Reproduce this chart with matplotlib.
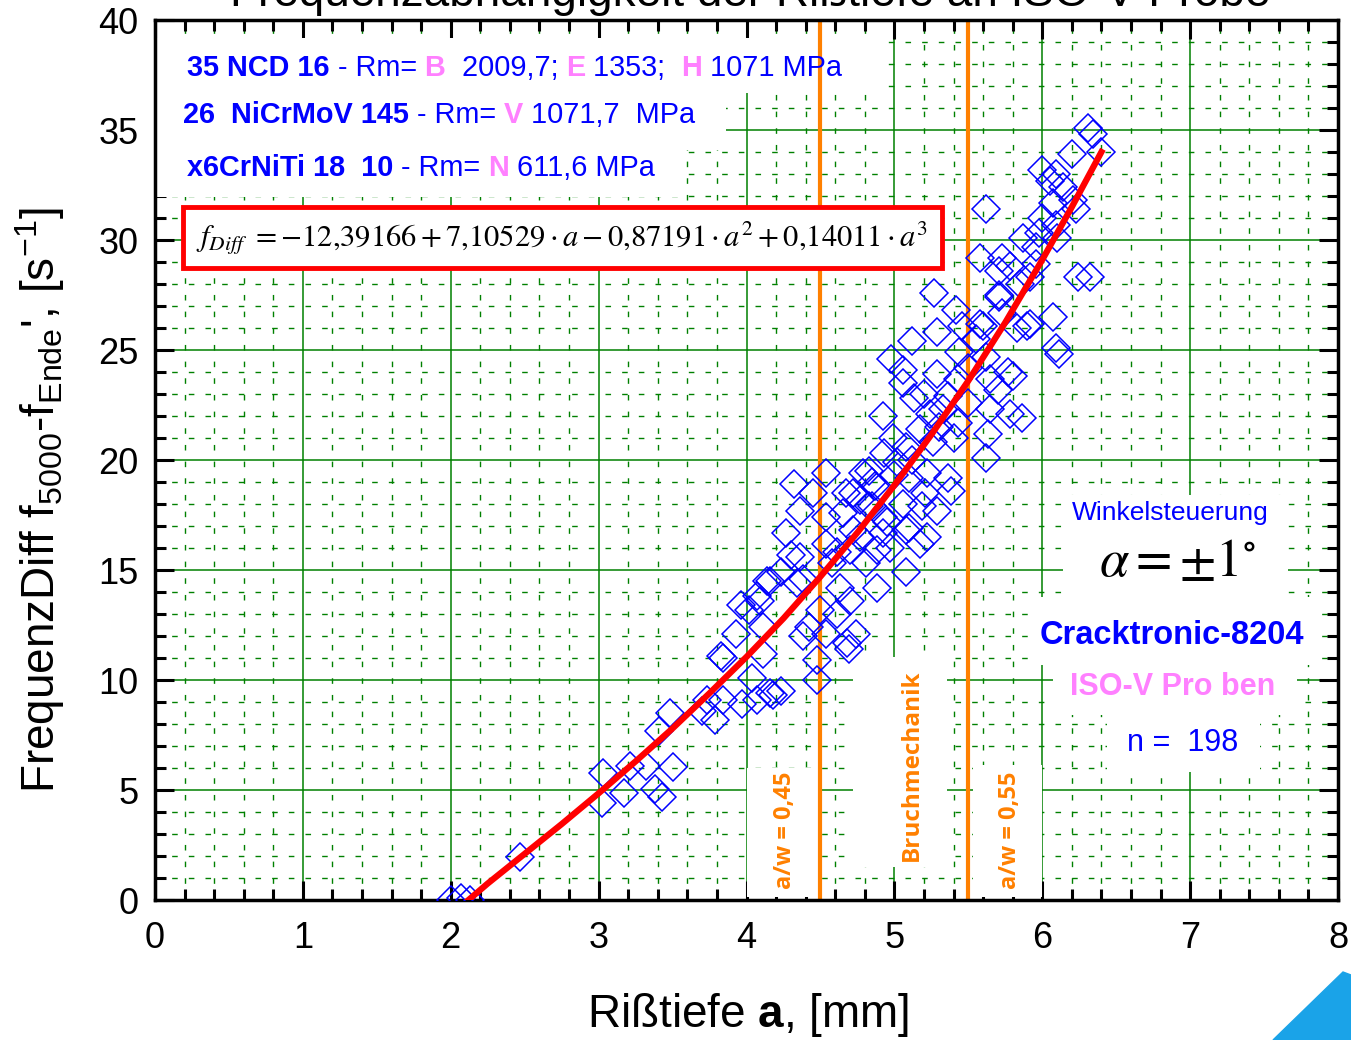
import numpy as np
import matplotlib.pyplot as plt
from matplotlib.patches import Rectangle, Polygon
from matplotlib.offsetbox import TextArea, HPacker, AnnotationBbox
from matplotlib.ticker import MultipleLocator
from matplotlib.transforms import Affine2D

plt.rcParams['font.family'] = ['Liberation Sans', 'DejaVu Sans']
plt.rcParams['mathtext.fontset'] = 'custom'
plt.rcParams['mathtext.rm'] = 'Liberation Sans'
plt.rcParams['mathtext.it'] = 'Liberation Sans:italic'
plt.rcParams['mathtext.bf'] = 'Liberation Sans:bold'

# scatter: crack depth a [mm] vs. frequency difference [1/s]
sx = [2.00, 2.07, 2.13, 2.47,
      3.03, 3.02, 3.17, 3.21, 3.32, 3.50, 3.38, 3.43, 3.41, 3.48, 3.70, 3.73, 3.79, 3.83, 3.84,
      4.54, 4.32, 4.45, 4.36, 4.27, 4.54, 4.54, 4.65, 4.67, 4.79, 4.85, 5.02, 5.10, 5.06, 5.19,
      5.29, 5.22, 5.10, 4.92, 4.83, 4.72, 4.88, 4.97, 4.70, 4.61, 4.36, 4.23, 4.34, 4.07, 4.02,
      3.93, 3.84, 4.11, 4.11, 4.04, 4.23, 4.38, 4.42, 4.48, 4.48, 4.54, 4.68, 4.74, 4.61, 4.70,
      4.63, 4.58, 4.88, 5.08, 4.81, 4.69, 4.16, 4.50, 4.38, 4.30, 4.14, 4.09, 3.97, 4.07, 4.18,
      5.27, 5.42, 5.29, 5.46, 5.12, 4.98, 5.06, 5.29, 5.43, 5.44, 5.60, 5.71, 5.90, 6.07, 6.11,
      5.65, 5.80, 5.70, 5.65, 5.78, 5.86, 5.63, 5.62, 4.92, 4.99, 5.24, 5.36, 5.40, 5.17, 5.43,
      5.26, 5.08, 4.83, 5.22, 5.36, 4.72, 4.85, 5.21, 5.38, 5.08, 4.92, 4.77, 5.17, 5.06,
      6.31, 6.34, 6.20, 6.40, 6.00, 6.09, 6.14, 6.05, 6.21, 6.23, 6.07, 6.00, 5.62, 6.09, 5.87,
      5.98, 6.10, 5.96, 5.58, 5.73, 5.78, 5.71, 5.96, 5.92, 6.24, 6.32, 5.71, 5.85, 5.58, 5.92,
      5.62, 5.77, 5.83, 5.73, 5.13, 5.33, 5.50, 4.77, 4.87, 4.95, 5.00, 4.93, 5.12, 5.30, 5.20,
      5.55, 5.50, 6.09, 4.16, 3.96]
sy = [0.0, 0.1, 0.0, 1.95,
      5.77, 4.40, 4.86, 6.10, 6.10, 6.05, 5.05, 4.70, 7.70, 8.50, 8.60, 9.10, 8.20, 11.1, 9.10,
      19.4, 18.9, 18.5, 17.7, 16.7, 17.4, 16.2, 17.6, 18.5, 19.4, 19.0, 19.9, 19.2, 18.0, 17.9,
      17.7, 16.5, 16.9, 17.4, 17.9, 16.8, 15.9, 16.0, 15.9, 15.8, 15.6, 14.9, 14.4, 13.8, 13.2,
      12.1, 11.0, 12.4, 11.2, 10.1, 9.50, 12.0, 12.4, 10.9, 10.0, 12.1, 11.7, 12.1, 13.0, 13.6,
      14.2, 15.3, 14.2, 14.9, 15.3, 11.4, 9.40, 13.2, 14.6, 15.7, 14.5, 13.6, 8.90, 9.10, 9.30,
      27.6, 26.8, 25.8, 26.1, 25.4, 24.6, 23.5, 23.9, 23.7, 24.9, 26.1, 27.4, 26.1, 26.5, 24.8,
      23.7, 23.8, 23.2, 22.3, 22.1, 21.9, 21.2, 20.1, 22.0, 21.0, 22.1, 22.9, 21.0, 21.4, 21.7,
      20.8, 20.6, 19.5, 19.4, 19.2, 18.5, 17.9, 18.5, 18.6, 16.8, 16.7, 16.5, 16.2, 24.1,
      35.1, 34.8, 33.9, 34.0, 33.2, 33.0, 32.4, 32.7, 31.8, 31.4, 31.7, 31.0, 31.4, 30.7, 30.1,
      30.3, 30.1, 29.7, 29.2, 29.2, 28.8, 28.6, 28.9, 28.3, 28.3, 28.3, 27.5, 28.0, 26.2, 26.2,
      24.7, 24.0, 26.0, 26.7, 22.8, 22.3, 22.6, 18.2, 18.8, 17.2, 19.3, 20.3, 20.0, 21.5, 23.0,
      25.5, 24.2, 25.1, 14.5, 13.4]

# fitted curve
fit_a = [2.12, 2.25, 2.5, 2.75, 3.0, 3.25, 3.5, 3.75, 4.0, 4.25, 4.5, 4.75, 5.0, 5.25,
         5.5, 5.75, 6.0, 6.2, 6.4]
fit_f = [0.0, 0.75, 2.1, 3.45, 4.85, 6.3, 7.8, 9.4, 11.05, 12.8, 14.7, 16.7, 18.85, 21.15,
         23.6, 26.25, 29.1, 31.5, 34.0]

aw_lines = [4.5, 5.5]

W, H = 1351, 1040
fig = plt.figure(figsize=(W / 100, H / 100), dpi=100)
pix = Affine2D().scale(1 / W, -1 / H).translate(0, 1) + fig.transFigure  # picture pixels
ax = fig.add_axes([155 / W, 1 - 900 / H, (1338 - 155) / W, (900 - 20) / H])
ax.set_xlim(0, 8)
ax.set_ylim(0, 40)

ax.xaxis.set_major_locator(MultipleLocator(1))
ax.xaxis.set_minor_locator(MultipleLocator(0.2))
ax.yaxis.set_major_locator(MultipleLocator(5))
ax.yaxis.set_minor_locator(MultipleLocator(1))
ax.tick_params(which='both', direction='in', top=True, right=True, width=2.2)
ax.tick_params(which='major', length=14, labelsize=26, pad=12)
ax.tick_params(axis='x', which='major', pad=15)
ax.tick_params(which='minor', length=8)
ax.set_axisbelow(True)
ax.grid(which='major', color='#008000', lw=1.1, ls='-')
ax.grid(which='minor', color='#008000', lw=1.0, ls=(0, (4, 8)))
for s in ax.spines.values():
    s.set_linewidth(2.5)

# white areas behind the texts
boxes = [(155, 38, 880, 93), (155, 93, 726, 150), (155, 150, 685, 197),
         (1063, 495, 1288, 597), (1030, 597, 1322, 665), (1053, 665, 1297, 715),
         (1107, 715, 1260, 772), (747, 768, 820, 897), (853, 657, 947, 867),
         (973, 765, 1042, 897)]
for x0, y0, x1, y1 in boxes:
    ax.add_patch(Rectangle((x0, y1), x1 - x0, y0 - y1, transform=pix,
                           facecolor='white', edgecolor='none', zorder=1))

for xv in aw_lines:
    ax.axvline(xv, color='#ff8000', lw=3, zorder=2)

ax.plot(sx, sy, 'D', ms=14, mfc='none', mec='#0000ff', mew=1.1, zorder=3)
ax.plot(fit_a, fit_f, color='red', lw=4.5, zorder=4)

# formula box
ax.add_patch(Rectangle((183, 268), 942 - 183, 207 - 268, transform=pix,
                       facecolor='white', edgecolor='red', lw=3.5, zorder=5))
ax.text(562, 238, r'$f_{Diff}\ =-12{,}39166+7{,}10529\cdot a-0{,}87191\cdot a^2+0{,}14011\cdot a^3$',
        transform=pix, ha='center', va='center', fontsize=22, math_fontfamily='stix', zorder=6)

blue = '#0000ff'
pink = '#ff80ff'
fs = 20.8


def line(parts, x, y):
    areas = [TextArea(t, textprops=dict(color=c, fontsize=fs, fontweight=w)) for t, c, w in parts]
    pack = HPacker(children=areas, align='baseline', pad=0, sep=0)
    ab = AnnotationBbox(pack, (x, y), xycoords=pix, box_alignment=(0, 0.5),
                        frameon=False, pad=0, zorder=6)
    ax.add_artist(ab)


line([('35 NCD 16', blue, 'bold'), (' - Rm= ', blue, 'normal'), ('B', pink, 'bold'),
      ('  2009,7; ', blue, 'normal'), ('E', pink, 'bold'), (' 1353;  ', blue, 'normal'),
      ('H', pink, 'bold'), (' 1071 MPa', blue, 'normal')], 187, 68)
line([('26  NiCrMoV 145', blue, 'bold'), (' - Rm= ', blue, 'normal'), ('V', pink, 'bold'),
      (' 1071,7  MPa', blue, 'normal')], 183, 115)
line([('x6CrNiTi 18  10', blue, 'bold'), (' - Rm= ', blue, 'normal'), ('N', pink, 'bold'),
      (' 611,6 MPa', blue, 'normal')], 187, 168)

ax.text(1170, 513, 'Winkelsteuerung', transform=pix, ha='center', va='center',
        fontsize=19, color=blue, zorder=6)
ax.text(1178, 562, r'$\alpha=\pm1^{\circ}$', transform=pix, ha='center', va='center',
        fontsize=38, math_fontfamily='stix', zorder=6)
ax.text(1172, 635, 'Cracktronic-8204', transform=pix, ha='center', va='center',
        fontsize=23.5, fontweight='bold', color=blue, zorder=6)
ax.text(1173, 687, 'ISO-V Pro ben', transform=pix, ha='center', va='center',
        fontsize=22, fontweight='bold', color=pink, zorder=6)
ax.text(1183, 743, 'n =  198', transform=pix, ha='center', va='center',
        fontsize=22, color=blue, zorder=6)

orange = '#ff8000'
ax.text(785, 830, 'a/w = 0,45', transform=pix, ha='center', va='center', rotation=90,
        fontsize=17, fontweight='bold', color=orange, family=['Open Sans', 'DejaVu Sans'],
        zorder=6)
ax.text(912, 765, 'Bruchmechanik', transform=pix, ha='center', va='center', rotation=90,
        fontsize=17.5, fontweight='bold', color=orange, family=['Open Sans', 'DejaVu Sans'],
        zorder=6)
ax.text(1010, 830, 'a/w = 0,55', transform=pix, ha='center', va='center', rotation=90,
        fontsize=17, fontweight='bold', color=orange, family=['Open Sans', 'DejaVu Sans'],
        zorder=6)

fig.text(750 / W, 1 - 6 / H, 'Frequenzabhängigkeit der Rißtiefe an ISO-V Probe',
         ha='center', va='baseline', fontsize=33)
fig.text(748 / W, 1 - 1015 / H, r'Rißtiefe $\mathbf{a}$, [mm]', ha='center', va='center',
         fontsize=33)
fig.text(40 / W, 1 - 500 / H, r"FrequenzDiff f$_{5000}$-f$_{\mathrm{Ende}}$', [s$^{-1}$]",
         ha='center', va='center', rotation=90, fontsize=33)

fig.add_artist(Polygon([(1343, 972), (1273, 1040), (1351, 1040), (1351, 975)],
                       transform=pix, color='#1aa3e8'))

fig.savefig('out.png', dpi=100)
